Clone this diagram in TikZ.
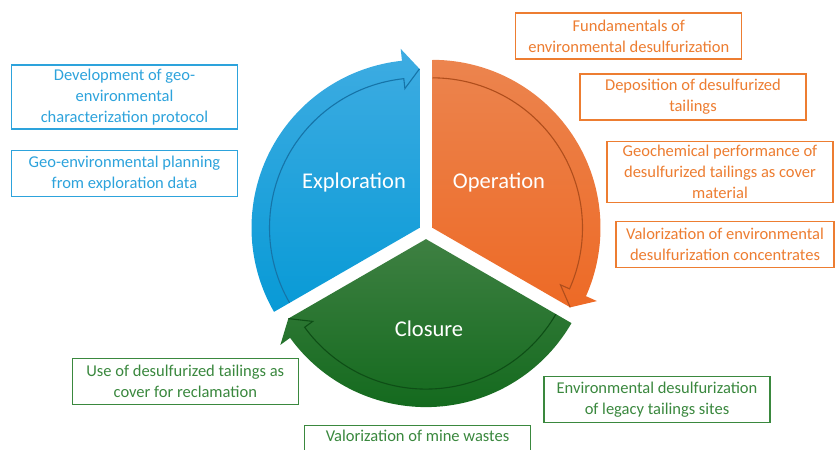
\documentclass[tikz,border=0pt]{standalone}
\usepackage{fontspec}
\setmainfont{Carlito}

\definecolor{explcol}{RGB}{45,163,220}
\definecolor{explhi}{RGB}{62,172,226}
\definecolor{expllo}{RGB}{8,154,214}
\definecolor{expldark}{RGB}{22,116,168}
\definecolor{opercol}{RGB}{237,125,49}
\definecolor{operhi}{RGB}{236,132,78}
\definecolor{operlo}{RGB}{237,106,38}
\definecolor{operdark}{RGB}{176,78,28}
\definecolor{closcol}{RGB}{58,136,62}
\definecolor{closhi}{RGB}{62,128,66}
\definecolor{closlo}{RGB}{20,106,30}
\definecolor{closdark}{RGB}{14,78,22}

\begin{document}
\begin{tikzpicture}[x=1pt, y=1pt, thick,
		seg label/.style={text=white, font=\fontsize{22.5}{27}\selectfont},
		box/.style={draw, line width=1.3pt, fill=white, minimum width=226pt,
			minimum height=46pt, inner ysep=4pt, align=center,
			font=\fontsize{16.5}{21}\selectfont},
		expl box/.style={box, draw=explcol, text=explcol},
		oper box/.style={box, draw=opercol, text=opercol},
		clos box/.style={box, draw=closcol, text=closcol}]
	
	\useasboundingbox (0,0) rectangle (836,450);
	
	% exploration
	\shade[top color=explhi, bottom color=expllo, shift={(419.5,222.15)}]
	(0,0) -- (210:168pt) arc[start angle=210, end angle=96, radius=168pt]
	-- (96:180pt) -- (90:159pt) -- cycle;
	\draw[line width=1.1pt, expldark, shift={(419.5,222.15)}]
	(210:150pt) arc[start angle=210, end angle=96, radius=150pt]
	-- (96:140pt) -- (90:159pt);
	
	% operation
	\shade[top color=operhi, bottom color=operlo, shift={(432.5,222.15)}]
	(0,0) -- (90:168pt) arc[start angle=90, end angle=-24, radius=168pt]
	-- (-24:180pt) -- (-30:159pt) -- cycle;
	\draw[line width=1.1pt, operdark, shift={(432.5,222.15)}]
	(90:150pt) arc[start angle=90, end angle=-24, radius=150pt]
	-- (-24:140pt) -- (-30:159pt);
	
	% closure
	\shade[top color=closhi, bottom color=closlo, shift={(426,210.9)}]
	(0,0) -- (-30:168pt) arc[start angle=-30, end angle=-144, radius=168pt]
	-- (-144:180pt) -- (-150:159pt) -- cycle;
	\draw[line width=1.1pt, closdark, shift={(426,210.9)}]
	(-30:150pt) arc[start angle=-30, end angle=-144, radius=150pt]
	-- (-144:140pt) -- (-150:159pt);
	
	\node[seg label] (expl) at (354,267) {Exploration};
	\node[seg label] (oper) at (499,267) {Operation};
	\node[seg label] (clos) at (429,121) {Closure};
	
	\node[expl box] (b1) at (124.5,353) {Development of geo-\\environmental\\characterization protocol};
	\node[expl box] (b2) at (124.5,276.3) {Geo-environmental planning\\from exploration data};
	
	\node[oper box] (o1) at (628.8,414) {Fundamentals of\\environmental desulfurization};
	\node[oper box] (o2) at (693,353) {Deposition of desulfurized\\tailings};
	\node[oper box] (o3) at (720,278) {Geochemical performance of\\desulfurized tailings as cover\\material};
	\node[oper box, minimum width=218pt] (o4) at (725,205.5) {Valorization of environmental\\desulfurization concentrates};
	
	\node[clos box] (g1) at (185.3,68.5) {Use of desulfurized tailings as\\cover for reclamation};
	\node[clos box] (g2) at (657,50.5) {Environmental desulfurization\\of legacy tailings sites};
	\node[clos box] (g3) at (417.5,1) {Valorization of mine wastes\\\strut};
\end{tikzpicture}
\end{document}
